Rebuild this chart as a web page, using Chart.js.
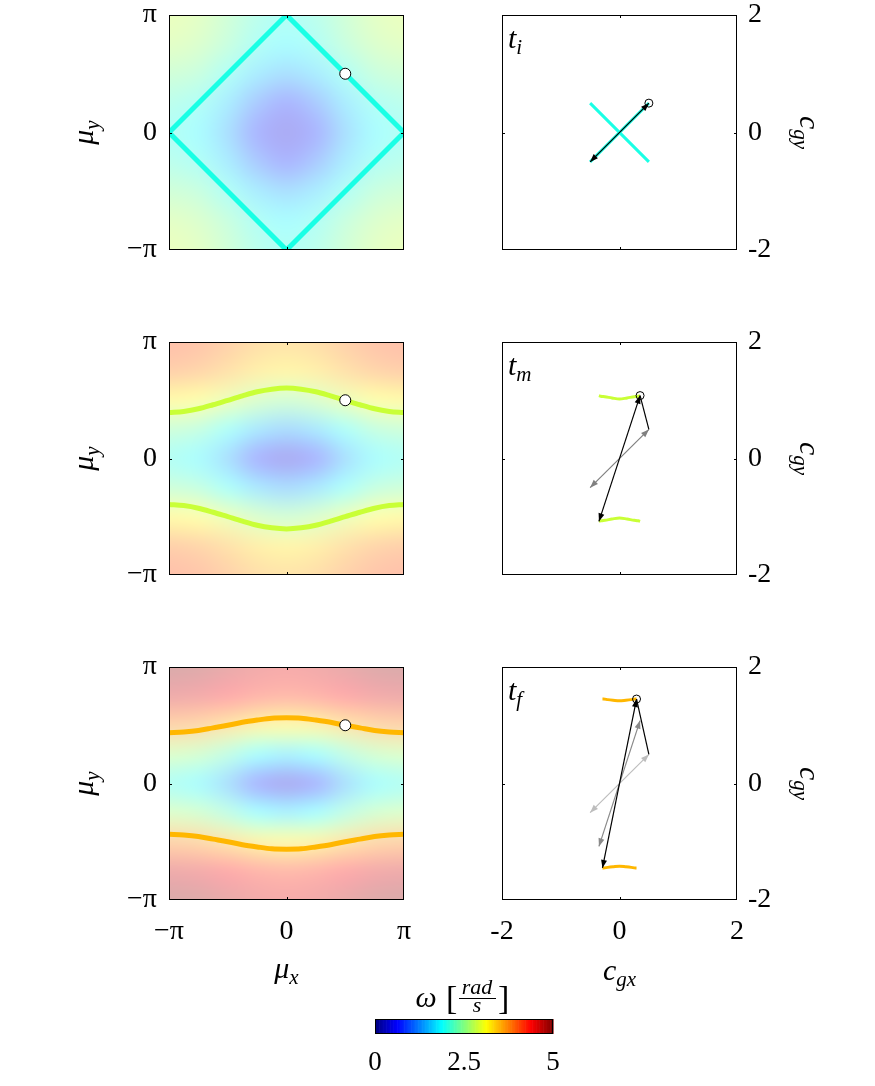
<!DOCTYPE html>
<html lang="en">
<head>
<meta charset="utf-8">
<title>Isofrequency contours and group velocity</title>
<script src="https://cdn.jsdelivr.net/npm/chart.js@4.4.1/dist/chart.umd.min.js"></script>
<style>
  html, body { margin: 0; padding: 0; background: #fff; }
  #figure { position: relative; width: 875px; height: 1086px; overflow: hidden; }
  #figure canvas { position: absolute; left: 0; top: 0; }
</style>
</head>
<body>
<div id="figure">
  <canvas id="bz-ti" width="875" height="1086"></canvas>
  <canvas id="bz-tm" width="875" height="1086"></canvas>
  <canvas id="bz-tf" width="875" height="1086"></canvas>
  <canvas id="cg-ti" width="875" height="1086"></canvas>
  <canvas id="cg-tm" width="875" height="1086"></canvas>
  <canvas id="cg-tf" width="875" height="1086"></canvas>
  <canvas id="cbar" width="875" height="1086"></canvas>
</div>
<script>
// ===========================================================
// Isofrequency contours (left) + group velocity (right)
// ===========================================================

const PI = Math.PI;

// ---- tick values / labels ----
const muTicks = [-PI, 0, PI];
const muTickLabels = ['−π', '0', 'π'];
const cgTicks = [-2, 0, 2];
const cgTickLabels = ['-2', '0', '2'];
const cbarTicks = [0, 2.5, 5];
const cbarTickLabels = ['0', '2.5', '5'];

// ---- omega(mu_x, mu_y) read off the shading ----
// columns: mu_x = muNodes, rows: mu_y from +pi (top) down to -pi (bottom)
const muNodes = [-PI, -3 * PI / 4, -PI / 2, -PI / 4, 0, PI / 4, PI / 2, 3 * PI / 4, PI];

const omegaTi = [
  [2.83, 2.72, 2.45, 2.14, 2.00, 2.14, 2.45, 2.72, 2.83],
  [2.72, 2.61, 2.33, 2.00, 1.85, 2.00, 2.33, 2.61, 2.72],
  [2.45, 2.33, 2.00, 1.61, 1.41, 1.61, 2.00, 2.33, 2.45],
  [2.14, 2.00, 1.61, 1.08, 0.77, 1.08, 1.61, 2.00, 2.14],
  [2.00, 1.85, 1.41, 0.77, 0.45, 0.77, 1.41, 1.85, 2.00],
  [2.14, 2.00, 1.61, 1.08, 0.77, 1.08, 1.61, 2.00, 2.14],
  [2.45, 2.33, 2.00, 1.61, 1.41, 1.61, 2.00, 2.33, 2.45],
  [2.72, 2.61, 2.33, 2.00, 1.85, 2.00, 2.33, 2.61, 2.72],
  [2.83, 2.72, 2.45, 2.14, 2.00, 2.14, 2.45, 2.72, 2.83]
];

const omegaTm = [
  [4.05, 3.98, 3.79, 3.60, 3.52, 3.60, 3.79, 3.98, 4.05],
  [3.82, 3.74, 3.55, 3.34, 3.25, 3.34, 3.55, 3.74, 3.82],
  [3.19, 3.10, 2.86, 2.61, 2.49, 2.61, 2.86, 3.10, 3.19],
  [2.41, 2.29, 1.95, 1.55, 1.35, 1.55, 1.95, 2.29, 2.41],
  [2.00, 1.85, 1.41, 0.77, 0.45, 0.77, 1.41, 1.85, 2.00],
  [2.41, 2.29, 1.95, 1.55, 1.35, 1.55, 1.95, 2.29, 2.41],
  [3.19, 3.10, 2.86, 2.61, 2.49, 2.61, 2.86, 3.10, 3.19],
  [3.82, 3.74, 3.55, 3.34, 3.25, 3.34, 3.55, 3.74, 3.82],
  [4.05, 3.98, 3.79, 3.60, 3.52, 3.60, 3.79, 3.98, 4.05]
];

const omegaTf = [
  [4.92, 4.86, 4.71, 4.56, 4.49, 4.56, 4.71, 4.86, 4.92],
  [4.61, 4.54, 4.39, 4.22, 4.15, 4.22, 4.39, 4.54, 4.61],
  [3.75, 3.68, 3.48, 3.27, 3.18, 3.27, 3.48, 3.68, 3.75],
  [2.64, 2.52, 2.23, 1.88, 1.72, 1.88, 2.23, 2.52, 2.64],
  [2.00, 1.85, 1.41, 0.77, 0.45, 0.77, 1.41, 1.85, 2.00],
  [2.64, 2.52, 2.23, 1.88, 1.72, 1.88, 2.23, 2.52, 2.64],
  [3.75, 3.68, 3.48, 3.27, 3.18, 3.27, 3.48, 3.68, 3.75],
  [4.61, 4.54, 4.39, 4.22, 4.15, 4.22, 4.39, 4.54, 4.61],
  [4.92, 4.86, 4.71, 4.56, 4.49, 4.56, 4.71, 4.86, 4.92]
];

// ---- isofrequency contours (level in rad/s: ti, tm, tf) ----
const contourLevels = [2.0, 2.86, 3.48];
const diamondMuX = [-PI, 0, PI, 0, -PI];
const diamondMuY = [0, PI, 0, -PI, 0];
const contourMuX = [-PI, -7 * PI / 8, -3 * PI / 4, -5 * PI / 8, -PI / 2, -3 * PI / 8, -PI / 4, -PI / 8, 0,
                    PI / 8, PI / 4, 3 * PI / 8, PI / 2, 5 * PI / 8, 3 * PI / 4, 7 * PI / 8, PI];
const contourTmTop    = [1.24, 1.27, 1.34, 1.45, 1.57, 1.69, 1.80, 1.87, 1.90, 1.87, 1.80, 1.69, 1.57, 1.45, 1.34, 1.27, 1.24];
const contourTmBottom = [-1.24, -1.27, -1.34, -1.45, -1.57, -1.69, -1.80, -1.87, -1.90, -1.87, -1.80, -1.69, -1.57, -1.45, -1.34, -1.27, -1.24];
const contourTfTop    = [1.37, 1.39, 1.43, 1.50, 1.57, 1.65, 1.71, 1.76, 1.77, 1.76, 1.71, 1.65, 1.57, 1.50, 1.43, 1.39, 1.37];
const contourTfBottom = [-1.37, -1.39, -1.43, -1.50, -1.57, -1.65, -1.71, -1.76, -1.77, -1.76, -1.71, -1.65, -1.57, -1.50, -1.43, -1.39, -1.37];

// ---- selected wave vector (white dot) ----
const waveVector = [PI / 2, PI / 2];

// ---- group velocity loci ----
const cgTiCrossX = [-0.5, 0.5];
const cgTiCrossA = [0.5, -0.5];
const cgTiCrossB = [-0.5, 0.5];
const cgTmLocusX      = [-0.35, -0.32, -0.25, -0.13, 0, 0.13, 0.25, 0.32, 0.35];
const cgTmLocusTop    = [1.08, 1.07, 1.06, 1.04, 1.02, 1.04, 1.06, 1.07, 1.08];
const cgTmLocusBottom = [-1.08, -1.07, -1.06, -1.04, -1.02, -1.04, -1.06, -1.07, -1.08];
const cgTfLocusX      = [-0.29, -0.27, -0.20, -0.11, 0, 0.11, 0.20, 0.27, 0.29];
const cgTfLocusTop    = [1.45, 1.45, 1.44, 1.43, 1.42, 1.43, 1.44, 1.45, 1.45];
const cgTfLocusBottom = [-1.45, -1.45, -1.44, -1.43, -1.42, -1.43, -1.44, -1.45, -1.45];

// group velocity of the selected wave vector at each time
const cgTi = [0.5, 0.5];
const cgTm = [0.35, 1.08];
const cgTf = [0.29, 1.45];

/* ===========================================================
   layout + styles
   =========================================================== */
const W = 875, H = 1086;
const ROWS = [{ top: 15, bottom: 250 }, { top: 342, bottom: 575 }, { top: 667, bottom: 900 }];
const LEFT = { l: 169, r: 404 };
const RIGHT = { l: 502, r: 737 };
const OMEGA_MAX = 5;
const FADE = 0.33;
const SERIF = '"Liberation Serif", "DejaVu Serif", serif';

Chart.defaults.font.family = SERIF;
Chart.defaults.color = '#000';

function jet(t) {
  t = Math.min(1, Math.max(0, t));
  const c = v => Math.round(255 * Math.min(1, Math.max(0, v)));
  return [c(1.5 - Math.abs(4 * t - 3)), c(1.5 - Math.abs(4 * t - 2)), c(1.5 - Math.abs(4 * t - 1))];
}
const rgb = a => `rgb(${a[0]},${a[1]},${a[2]})`;
const lineColors = contourLevels.map(w => rgb(jet(w / OMEGA_MAX)));

// per-canvas extras used by the plugins
const heatGrids = {};
const overlays = {};
const colorbars = {};

/* ===========================================================
   plugins
   =========================================================== */
const heatmapPlugin = {
  id: 'heatmap',
  beforeDatasetsDraw(chart) {
    const grid = heatGrids[chart.canvas.id];
    if (!grid) return;
    const { ctx, chartArea: a, scales: { x, y } } = chart;
    const n = grid.length, m = grid[0].length;
    const off = document.createElement('canvas');
    off.width = m; off.height = n;
    const octx = off.getContext('2d');
    const img = octx.createImageData(m, n);
    grid.forEach((row, i) => row.forEach((w, j) => {
      const c = jet(w / OMEGA_MAX);
      const k = 4 * (i * m + j);
      for (let q = 0; q < 3; q++) img.data[k + q] = Math.round(255 * (1 - FADE) + c[q] * FADE);
      img.data[k + 3] = 255;
    }));
    octx.putImageData(img, 0, 0);
    const half = (muNodes[1] - muNodes[0]) / 2;
    const x0 = x.getPixelForValue(muNodes[0] - half);
    const x1 = x.getPixelForValue(muNodes[m - 1] + half);
    const y0 = y.getPixelForValue(muNodes[n - 1] + half);
    const y1 = y.getPixelForValue(muNodes[0] - half);
    ctx.save();
    ctx.beginPath();
    ctx.rect(a.left, a.top, a.width, a.height);
    ctx.clip();
    ctx.imageSmoothingEnabled = true;
    ctx.imageSmoothingQuality = 'high';
    ctx.drawImage(off, x0, y0, x1 - x0, y1 - y0);
    ctx.restore();
  }
};

const colorbarPlugin = {
  id: 'colorbar',
  beforeDatasetsDraw(chart) {
    if (!colorbars[chart.canvas.id]) return;
    const { ctx, chartArea: a, scales: { x } } = chart;
    const steps = 128;
    for (let i = 0; i < steps; i++) {
      const p0 = x.getPixelForValue(OMEGA_MAX * i / steps);
      const p1 = x.getPixelForValue(OMEGA_MAX * (i + 1) / steps);
      ctx.fillStyle = rgb(jet((i + 0.5) / steps));
      ctx.fillRect(p0, a.top, p1 - p0 + 0.6, a.height);
    }
  }
};

const framePlugin = {
  id: 'frame',
  afterDatasetsDraw(chart) {
    const { ctx, chartArea: a, scales: { x, y } } = chart;
    ctx.save();
    ctx.strokeStyle = '#000';
    ctx.lineWidth = 1;
    ctx.strokeRect(a.left + 0.5, a.top + 0.5, a.width - 1, a.height - 1);
    if (!colorbars[chart.canvas.id]) {
      const px = Math.round(x.getPixelForValue(0)) + 0.5;
      const py = Math.round(y.getPixelForValue(0)) + 0.5;
      ctx.beginPath();
      ctx.moveTo(px, a.bottom); ctx.lineTo(px, a.bottom - 3);
      ctx.moveTo(px, a.top); ctx.lineTo(px, a.top + 3);
      ctx.moveTo(a.left, py); ctx.lineTo(a.left + 3, py);
      ctx.moveTo(a.right, py); ctx.lineTo(a.right - 3, py);
      ctx.stroke();
    }
    ctx.restore();
  }
};

function arrowHead(ctx, from, tip, color) {
  const ang = Math.atan2(tip.y - from.y, tip.x - from.x);
  ctx.save();
  ctx.translate(tip.x, tip.y);
  ctx.rotate(ang);
  ctx.beginPath();
  ctx.moveTo(0, 0);
  ctx.lineTo(-8, -3);
  ctx.lineTo(-8, 3);
  ctx.closePath();
  ctx.fillStyle = color;
  ctx.fill();
  ctx.restore();
}

const arrowPlugin = {
  id: 'arrows',
  afterDatasetsDraw(chart) {
    const ds = chart.data.datasets;
    for (let i = ds.length - 1; i >= 0; i--) {
      if (!ds[i].arrowHeads) continue;
      const pts = chart.getDatasetMeta(i).data;
      const a = pts[0], b = pts[pts.length - 1];
      arrowHead(chart.ctx, a, b, ds[i].borderColor);
      arrowHead(chart.ctx, b, a, ds[i].borderColor);
    }
  }
};

// parts: [text, size, italic, dy]
function drawMath(ctx, parts, x, y, rotate = 0, align = 'center') {
  ctx.save();
  ctx.translate(x, y);
  if (rotate) ctx.rotate(rotate);
  ctx.fillStyle = '#000';
  ctx.textBaseline = 'alphabetic';
  ctx.textAlign = 'left';
  const font = p => `${p[2] ? 'italic ' : ''}${p[1]}px ${SERIF}`;
  let w = 0;
  parts.forEach(p => { ctx.font = font(p); w += ctx.measureText(p[0]).width; });
  let cx = align === 'left' ? 0 : -w / 2;
  parts.forEach(p => {
    ctx.font = font(p);
    ctx.fillText(p[0], cx, p[3] || 0);
    cx += ctx.measureText(p[0]).width;
  });
  ctx.restore();
}

const overlayPlugin = {
  id: 'overlay',
  afterDraw(chart) {
    const fn = overlays[chart.canvas.id];
    if (fn) fn(chart.ctx, chart.chartArea);
  }
};

/* ===========================================================
   chart builders
   =========================================================== */
function axis(pos, min, max, ticks, labels, show, size, pad, fontSize = 28) {
  return {
    type: 'linear', position: pos, min, max, display: show,
    grid: { display: false, drawTicks: false, tickLength: 0 }, border: { display: false },
    afterBuildTicks: s => { s.ticks = ticks.map(v => ({ value: v })); },
    afterFit: s => {
      const sz = show ? size : 0;
      if (s.isHorizontal()) s.height = sz; else s.width = sz;
      s.paddingLeft = s.paddingRight = s.paddingTop = s.paddingBottom = 0;
    },
    ticks: {
      autoSkip: false, maxRotation: 0, minRotation: 0, padding: pad,
      font: { size: fontSize }, color: '#000',
      callback: (v, i) => labels[i]
    }
  };
}

function makeChart(id, padding, scales, datasets) {
  return new Chart(document.getElementById(id), {
    type: 'scatter',
    data: { datasets },
    options: {
      responsive: false, animation: false, devicePixelRatio: 1, events: [],
      layout: { padding },
      plugins: { legend: { display: false }, tooltip: { enabled: false } },
      scales
    },
    plugins: [heatmapPlugin, colorbarPlugin, framePlugin, arrowPlugin, overlayPlugin]
  });
}

const pts = (xs, ys) => xs.map((x, i) => ({ x, y: ys[i] }));

function curve(xs, ys, color, width, smooth = false) {
  return { data: pts(xs, ys), showLine: true, borderColor: color, borderWidth: width,
           pointRadius: 0, borderCapStyle: 'butt',
           tension: smooth ? 0.4 : 0, cubicInterpolationMode: smooth ? 'monotone' : 'default' };
}

function arrow(v, color) {
  return { data: [{ x: -v[0], y: -v[1] }, { x: v[0], y: v[1] }], showLine: true,
           borderColor: color, borderWidth: 1.2, pointRadius: 0, arrowHeads: true };
}

function dot(p, r, fill) {
  return { data: [{ x: p[0], y: p[1] }], pointRadius: r, pointBackgroundColor: fill,
           pointBorderColor: '#000', pointBorderWidth: 1 };
}

function brillouinPanel(id, row, grid, curves, bottomAxis) {
  const r = ROWS[row];
  const xH = bottomAxis ? 60 : 0;
  heatGrids[id] = grid;
  overlays[id] = (ctx, a) => {
    drawMath(ctx, [['μ', 30, true, 0], ['y', 21, true, 6]], a.left - 76, (a.top + a.bottom) / 2, -PI / 2);
    if (bottomAxis) drawMath(ctx, [['μ', 30, true, 0], ['x', 21, true, 6]], (a.left + a.right) / 2, a.bottom + 78);
  };
  makeChart(id,
    { left: LEFT.l - 120, right: W - LEFT.r, top: r.top, bottom: H - r.bottom - xH },
    {
      x: axis('bottom', -PI, PI, muTicks, muTickLabels, bottomAxis, 60, 15),
      y: axis('left', -PI, PI, muTicks, muTickLabels, true, 120, 12)
    },
    [dot(waveVector, 5.5, '#ffffff'), ...curves]);
}

function velocityPanel(id, row, sub, datasets, bottomAxis) {
  const r = ROWS[row];
  const xH = bottomAxis ? 60 : 0;
  overlays[id] = (ctx, a) => {
    drawMath(ctx, [['t', 30, true, 0], [sub, 21, true, 6]], a.left + 6, a.top + 33, 0, 'left');
    drawMath(ctx, [['c', 30, true, 0], ['gy', 21, true, 6]], a.right + 63, (a.top + a.bottom) / 2, PI / 2);
    if (bottomAxis) drawMath(ctx, [['c', 30, true, 0], ['gx', 21, true, 6]], (a.left + a.right) / 2, a.bottom + 80);
  };
  makeChart(id,
    { left: RIGHT.l, right: W - RIGHT.r - 60, top: r.top, bottom: H - r.bottom - xH },
    {
      x: axis('bottom', -2, 2, cgTicks, cgTickLabels, bottomAxis, 60, 15),
      y: axis('right', -2, 2, cgTicks, cgTickLabels, true, 60, 11)
    },
    datasets);
}

/* ===========================================================
   build the figure
   =========================================================== */
brillouinPanel('bz-ti', 0, omegaTi, [curve(diamondMuX, diamondMuY, lineColors[0], 5)], false);
brillouinPanel('bz-tm', 1, omegaTm, [
  curve(contourMuX, contourTmTop, lineColors[1], 5, true),
  curve(contourMuX, contourTmBottom, lineColors[1], 5, true)
], false);
brillouinPanel('bz-tf', 2, omegaTf, [
  curve(contourMuX, contourTfTop, lineColors[2], 5, true),
  curve(contourMuX, contourTfBottom, lineColors[2], 5, true)
], true);

velocityPanel('cg-ti', 0, 'i', [
  dot(cgTi, 4, 'rgba(0,0,0,0)'),
  arrow(cgTi, '#000000'),
  curve(cgTiCrossX, cgTiCrossA, lineColors[0], 3),
  curve(cgTiCrossX, cgTiCrossB, lineColors[0], 3)
], false);

velocityPanel('cg-tm', 1, 'm', [
  dot(cgTm, 4, 'rgba(0,0,0,0)'),
  arrow(cgTm, '#000000'),
  curve([cgTm[0], cgTi[0]], [cgTm[1], cgTi[1]], '#000000', 1.2),
  arrow(cgTi, '#808080'),
  curve(cgTmLocusX, cgTmLocusTop, lineColors[1], 3, true),
  curve(cgTmLocusX, cgTmLocusBottom, lineColors[1], 3, true)
], false);

velocityPanel('cg-tf', 2, 'f', [
  dot(cgTf, 4, 'rgba(0,0,0,0)'),
  arrow(cgTf, '#000000'),
  curve([cgTf[0], cgTi[0]], [cgTf[1], cgTi[1]], '#000000', 1.2),
  arrow(cgTm, '#8a8a8a'),
  arrow(cgTi, '#bdbdbd'),
  curve(cgTfLocusX, cgTfLocusTop, lineColors[2], 3, true),
  curve(cgTfLocusX, cgTfLocusBottom, lineColors[2], 3, true)
], true);

// colour bar
colorbars['cbar'] = true;
overlays['cbar'] = (ctx, a) => {
  drawMath(ctx, [['ω', 30, true, 0]], a.left + 51, a.top - 12);
  drawMath(ctx, [['[', 34, false, 0]], a.left + 71, a.top - 10, 0, 'left');
  drawMath(ctx, [['rad', 22, true, 0]], a.left + 102, a.top - 25);
  drawMath(ctx, [['s', 22, true, 0]], a.left + 102, a.top - 7);
  drawMath(ctx, [[']', 34, false, 0]], a.left + 123, a.top - 10, 0, 'left');
  ctx.save();
  ctx.strokeStyle = '#000';
  ctx.lineWidth = 1;
  ctx.beginPath();
  ctx.moveTo(a.left + 84, a.top - 20.5);
  ctx.lineTo(a.left + 121, a.top - 20.5);
  ctx.stroke();
  ctx.restore();
};
makeChart('cbar',
  { left: 375, right: W - 553, top: 1019, bottom: H - 1034 - 50 },
  {
    x: axis('bottom', 0, OMEGA_MAX, cbarTicks, cbarTickLabels, true, 50, 13, 27),
    y: { type: 'linear', display: false, min: 0, max: 1 }
  },
  []);
</script>
</body>
</html>
